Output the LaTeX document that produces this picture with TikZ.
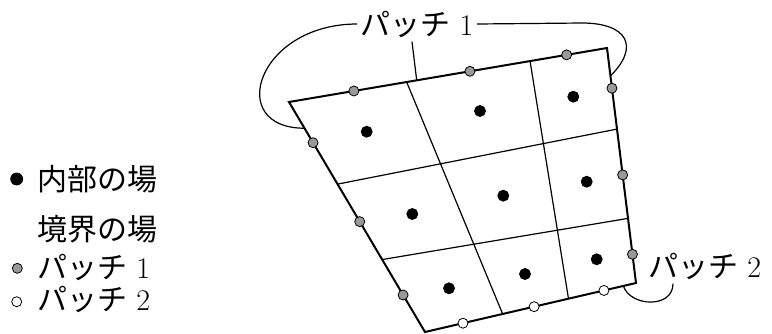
\documentclass[tikz,border=0pt]{standalone}
\usepackage{fontspec}
\newfontfamily\jp{Noto Sans CJK JP}
\usetikzlibrary{calc,positioning}

\begin{document}
\begin{tikzpicture}[x=0.5pt,y=-0.5pt,every node/.style={font=\fontsize{15}{18}\selectfont,inner sep=0pt},
  field/.style={circle,draw,line width=0.4pt,inner sep=0pt,minimum size=5pt},
  inner/.style={field,fill=black,minimum size=5.5pt},
  bdone/.style={field,fill=black!40},
  bdtwo/.style={field,fill=white},
  meshline/.style={line width=0.6pt},
  leader/.style={line width=0.6pt}]
  \useasboundingbox (0,0) rectangle (772,333);
  \coordinate (TL) at (289,102);
  \coordinate (TR) at (607,48);
  \coordinate (BR) at (636,283);
  \coordinate (BL) at (425,332);
  \coordinate (t1) at ($(TL)!0.37!(TR)$);
  \coordinate (t2) at ($(TL)!0.758!(TR)$);
  \coordinate (b1) at ($(BL)!0.368!(BR)$);
  \coordinate (b2) at ($(BL)!0.68!(BR)$);
  \coordinate (l1) at ($(TL)!0.357!(BL)$);
  \coordinate (l2) at ($(TL)!0.685!(BL)$);
  \coordinate (r1) at ($(TR)!0.345!(BR)$);
  \coordinate (r2) at ($(TR)!0.725!(BR)$);
  \draw[meshline] (t1) -- (b1) (t2) -- (b2) (l1) -- (r1) (l2) -- (r2);
  \draw[line width=1pt] (TL) -- (TR) -- (BR) -- (BL) -- cycle;
  \foreach \p in {(366.7,131.7),(480,111),(573.3,96.7),(412.3,214),(503.3,195.7),
    (586.7,181.7),(449,288.3),(525,274),(596.7,259.3)}
    \node[inner] at \p {};
  \foreach \a/\b/\t in {TL/TR/0.204,TL/TR/0.569,TL/TR/0.873,TR/BR/0.171,TR/BR/0.54,
    TR/BR/0.878,TL/BL/0.177,TL/BL/0.52,TL/BL/0.839}
    \node[bdone] at ($(\a)!\t!(\b)$) {};
  \foreach \t in {0.18,0.517,0.848}
    \node[bdtwo] at ($(BL)!\t!(BR)$) {};
  \node (p1) at (417,24) {{\jp パッチ} 1};
  \node[anchor=west] (p2) at (648,266) {{\jp パッチ} 2};
  \coordinate (e0) at ($(TL)!0.4016!(TR)$);
  \coordinate (e1) at ($(TL)!0.114!(BL)$);
  \coordinate (e2) at ($(TR)!0.119!(BR)$);
  \coordinate (e3) at ($(BL)!0.94!(BR)$);
  \draw[leader] ([xshift=-2.5pt,yshift=-2pt]p1.south) -- (e0);
  \draw[leader] ([xshift=-1.5pt]p1.west) .. controls +(-100,0) and +(-80,0) .. (e1);
  \draw[leader] ([xshift=1.5pt]p1.east) -- ++(105,-1) .. controls +(45,0) and +(30,-30) .. (e2);
  \draw[leader] ([xshift=12.5pt,yshift=-2pt]p2.south west) .. controls +(0,25) and +(7,21) .. (e3);
  \node[inner,minimum size=6pt] (kin) at (16.7,179) {};
  \node[right=7pt of kin] (tin) {\jp 内部の場};
  \node[anchor=west] (tbd) at (37,229) {\jp 境界の場};
  \node[bdone] (kone) at (17.3,268.3) {};
  \node[anchor=west] (tone) at (37,267) {{\jp パッチ} 1};
  \node[bdtwo] (ktwo) at (16.7,301.7) {};
  \node[anchor=west] (ttwo) at (37,299) {{\jp パッチ} 2};
\end{tikzpicture}
\end{document}
